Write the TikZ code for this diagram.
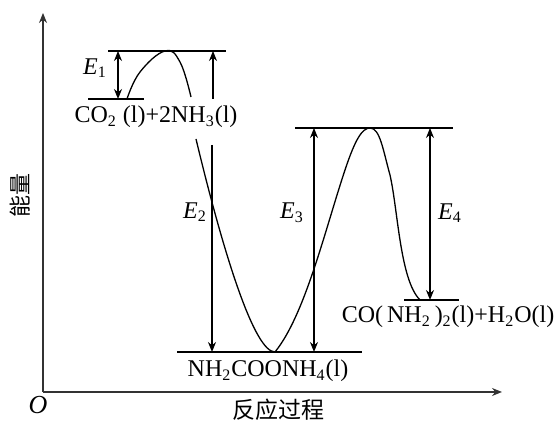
\documentclass[tikz,border=0pt]{standalone}
\usepackage{fontspec}
\setmainfont{Liberation Serif}
\newfontfamily\cjk{Noto Sans CJK SC}
\usetikzlibrary{arrows.meta,positioning,calc}

\begin{document}
\begin{tikzpicture}[x=0.5pt,y=-0.5pt,>={Stealth[length=5pt,width=4pt]},line width=0.65pt,font=\fontsize{12}{14}\selectfont]
    \useasboundingbox (0,0) rectangle (558,421);
    % axes
    \coordinate (origin) at (43,392);
    \coordinate (ytop) at (43,13);
    \coordinate (xend) at (502,392);
    \draw[->,black!80] (origin) -- (ytop);
    \draw[->,black!80] (origin) -- (xend);
    \node[font=\itshape\fontsize{13}{15}\selectfont] (o) at (38,405) {O};
    \node[font=\cjk\fontsize{11}{13}\selectfont,rotate=90] (ylab) at (20,196) {能量};
    \node[font=\cjk\fontsize{11.5}{13}\selectfont] (xlab) at (278,410) {反应过程};
    % energy levels
    \coordinate (t1l) at (108,51);  \coordinate (t1r) at (226,51);
    \coordinate (r1l) at (88,99);   \coordinate (r1r) at (144,99);
    \coordinate (t2l) at (295,128); \coordinate (t2r) at (453,128);
    \coordinate (p1l) at (404,300); \coordinate (p1r) at (459,300);
    \coordinate (m1l) at (177,352); \coordinate (m1r) at (362,352);
    \draw (t1l) -- (t1r);
    \draw (r1l) -- (r1r);
    \draw (t2l) -- (t2r);
    \draw (p1l) -- (p1r);
    \draw (m1l) -- (m1r);
    % reaction path
    \draw plot[smooth,tension=0.7] coordinates {(127,99) (140,72) (165,51) (180,62) (191,97)};
    \draw (196,139) .. controls (225,260) and (255,352) .. (275,352)
      .. controls (305,315) and (325,230) .. (345,170)
      .. controls (355,140) and (362,128) .. (370,128)
      .. controls (380,128) and (383,150) .. (390,175)
      .. controls (398,210) and (400,280) .. (420,300);
    % energy arrows
    \coordinate (e1a) at (118,51);  \coordinate (e1b) at (118,99);
    \coordinate (e2a) at (213,51);  \coordinate (e2b) at (213,99);
    \coordinate (e2c) at (212,145); \coordinate (e2d) at (212,352);
    \coordinate (e3a) at (314,128); \coordinate (e3b) at (314,352);
    \coordinate (e4a) at (430,128); \coordinate (e4b) at (430,300);
    \draw[<->] (e1a) -- (e1b);
    \draw[->] (e2b) -- (e2a);
    \draw[->] (e2c) -- (e2d);
    \draw[<->] (e3a) -- (e3b);
    \draw[<->] (e4a) -- (e4b);
    % labels
    \node (lab1) at (95,68) {\textit{E}\textsubscript{1}};
    \node (lab2) at (195,212) {\textit{E}\textsubscript{2}};
    \node (lab3) at (292,213) {\textit{E}\textsubscript{3}};
    \node (lab4) at (450,213) {\textit{E}\textsubscript{4}};
    \node[anchor=base] (react) at (156,123) {CO\textsubscript{2} (l)+2NH\textsubscript{3}(l)};
    \node[anchor=base] (inter) at (268,377) {NH\textsubscript{2}COONH\textsubscript{4}(l)};
    \node[anchor=base] (prod) at (448,323) {CO(\,NH\textsubscript{2}\,)\textsubscript{2}(l)+H\textsubscript{2}O(l)};
  \end{tikzpicture}
\end{document}
